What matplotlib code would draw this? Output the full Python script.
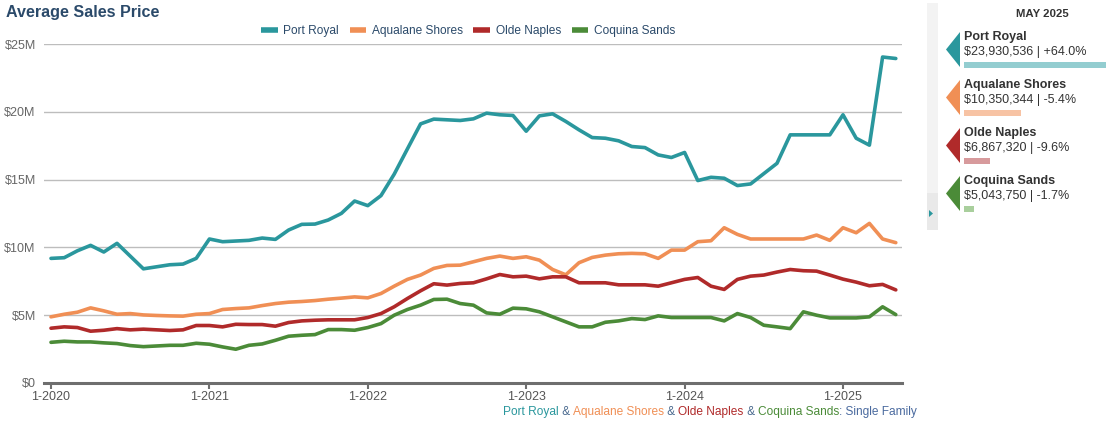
import matplotlib
matplotlib.use("Agg")
import matplotlib.pyplot as plt
from matplotlib.patches import Polygon, Rectangle
import numpy as np

plt.rcParams['font.family'] = ['Liberation Sans', 'DejaVu Sans']

# ---------------- data ----------------
series_names = ["Port Royal", "Aqualane Shores", "Olde Naples", "Coquina Sands"]
start_year = 2020
tick_labels = ["1-2020", "1-2021", "1-2022", "1-2023", "1-2024", "1-2025"]

port_royal = [
    9.19, 9.24, 9.75, 10.15, 9.66, 10.3, 9.36, 8.42, 8.57, 8.72, 8.77, 9.19,
    10.62, 10.42, 10.47, 10.52, 10.69, 10.59, 11.28, 11.7, 11.72, 12.02, 12.51, 13.42,
    13.08, 13.82, 15.4, 17.26, 19.11, 19.46, 19.41, 19.36, 19.48, 19.9, 19.78, 19.73,
    18.57, 19.7, 19.85, 19.29, 18.67, 18.1, 18.05, 17.86, 17.44, 17.36, 16.82, 16.63,
    17.0, 14.93, 15.17, 15.1, 14.56, 14.68, 15.44, 16.2, 18.3, 18.3, 18.3, 18.3,
    19.78, 18.05, 17.54, 24.04, 23.930536]
aqualane_shores = [
    4.88, 5.07, 5.22, 5.54, 5.32, 5.07, 5.12, 5.02, 4.98, 4.95, 4.93, 5.07,
    5.12, 5.42, 5.49, 5.54, 5.71, 5.86, 5.96, 6.01, 6.08, 6.18, 6.26, 6.35,
    6.28, 6.6, 7.14, 7.64, 7.96, 8.45, 8.67, 8.69, 8.94, 9.19, 9.36, 9.19,
    9.31, 9.06, 8.37, 7.98, 8.87, 9.26, 9.43, 9.53, 9.56, 9.53, 9.19, 9.8,
    9.8, 10.42, 10.49, 11.45, 10.96, 10.62, 10.62, 10.62, 10.62, 10.62, 10.91, 10.52,
    11.45, 11.08, 11.77, 10.62, 10.350344]
olde_naples = [
    4.04, 4.14, 4.09, 3.82, 3.89, 4.01, 3.92, 3.97, 3.92, 3.87, 3.92, 4.24,
    4.24, 4.14, 4.33, 4.31, 4.31, 4.19, 4.46, 4.58, 4.63, 4.66, 4.66, 4.66,
    4.83, 5.12, 5.62, 6.23, 6.8, 7.32, 7.22, 7.34, 7.39, 7.68, 8.0, 7.83,
    7.88, 7.68, 7.83, 7.83, 7.39, 7.39, 7.39, 7.24, 7.24, 7.24, 7.14, 7.39,
    7.64, 7.78, 7.14, 6.9, 7.64, 7.88, 7.96, 8.18, 8.37, 8.28, 8.25, 7.96,
    7.66, 7.44, 7.17, 7.27, 6.86732]
coquina_sands = [
    3.0, 3.08, 3.03, 3.03, 2.96, 2.91, 2.76, 2.68, 2.73, 2.78, 2.78, 2.93,
    2.86, 2.66, 2.49, 2.78, 2.88, 3.15, 3.45, 3.52, 3.57, 3.94, 3.94, 3.89,
    4.09, 4.38, 5.0, 5.42, 5.74, 6.16, 6.18, 5.86, 5.74, 5.17, 5.07, 5.52,
    5.47, 5.25, 4.88, 4.51, 4.14, 4.14, 4.48, 4.58, 4.75, 4.68, 4.95, 4.83,
    4.83, 4.83, 4.83, 4.58, 5.12, 4.83, 4.26, 4.14, 4.01, 5.25, 5.0, 4.8,
    4.8, 4.8, 4.88, 5.62, 5.04375]

panel_month = "MAY 2025"
panel_values = ["$23,930,536", "$10,350,344", "$6,867,320", "$5,043,750"]
panel_changes = ["+64.0%", "-5.4%", "-9.6%", "-1.7%"]
y_ticks_m = [0, 5, 10, 15, 20, 25]

# ---------------- style ----------------
colors = ["#2a979d", "#f08f55", "#b02a2a", "#4b8b38"]
light_colors = ["#93cdd0", "#f7c3a4", "#d79a9c", "#a9cf9d"]
bar_px = [150, 57, 26, 10]
navy = "#2b4a6a"
W, H = 1106, 424

fig = plt.figure(figsize=(W / 100, H / 100), dpi=100)

def fx(px):
    return px / W

def fy(py):
    return 1 - py / H

ax = fig.add_axes([fx(44), fy(383), fx(902) - fx(44), fy(44) - fy(383)])
all_series = [port_royal, aqualane_shores, olde_naples, coquina_sands]
x = np.arange(len(port_royal))
for name, vals, c in zip(series_names, all_series, colors):
    ax.plot(x, np.array(vals) * 1e6, color=c, lw=2.6, label=name,
            solid_joinstyle='round', solid_capstyle='round', zorder=3)

ax.set_ylim(0, 25e6)
ax.set_xlim(-0.53, 64.47)
ax.set_yticks([v * 1e6 for v in y_ticks_m])
ax.set_yticklabels(["$0" if v == 0 else f"${v}M" for v in y_ticks_m])
ax.set_xticks([12 * i for i in range(len(tick_labels))])
ax.set_xticklabels(tick_labels)
ax.grid(axis='y', color='#bdbdbd', lw=1.0)
ax.set_axisbelow(True)
for s in ['top', 'right', 'left']:
    ax.spines[s].set_visible(False)
ax.spines['bottom'].set_color('#6e6e6e')
ax.spines['bottom'].set_linewidth(2.2)
ax.spines['bottom'].set_zorder(4)
ax.tick_params(axis='y', length=0, pad=6, labelsize=9, labelcolor='#666666')
ax.tick_params(axis='x', length=4, width=1.5, color='#6e6e6e', pad=2,
               labelsize=9, labelcolor='#555555')

# title
fig.text(fx(6), fy(13), "Average Sales Price", fontsize=11.6, fontweight='bold',
         color=navy, ha='left', va='center')

# legend
handles, labels = ax.get_legend_handles_labels()
leg = fig.legend(handles, labels, loc='center', bbox_to_anchor=(fx(468), fy(31)),
                 ncol=4, frameon=False, fontsize=8.6, handlelength=1.4,
                 handletextpad=0.45, columnspacing=0.9)
for t in leg.get_texts():
    t.set_color(navy)
for l in leg.get_lines():
    l.set_linewidth(4)
    l.set_solid_capstyle('butt')

# caption with coloured parts
caption_parts = [("Port Royal", colors[0]), (" & ", "#4a6a8f"),
                 ("Aqualane Shores", colors[1]), (" & ", "#4a6a8f"),
                 ("Olde Naples", colors[2]), (" & ", "#4a6a8f"),
                 ("Coquina Sands", colors[3]), (": Single Family", "#4a6a9f")]
renderer = fig.canvas.get_renderer()
cur = 503
for txt, c in caption_parts:
    t = fig.text(fx(cur), fy(412), txt, fontsize=8.6, color=c, ha='left', va='center')
    bb = t.get_window_extent(renderer)
    cur += bb.width

# right panel
fig.patches.append(Rectangle((fx(927), fy(230)), fx(938) - fx(927), fy(3) - fy(230),
                             transform=fig.transFigure, facecolor='#f3f3f3',
                             edgecolor='none'))
fig.patches.append(Rectangle((fx(927), fy(230)), fx(938) - fx(927), fy(193) - fy(230),
                             transform=fig.transFigure, facecolor='#e9e9e9',
                             edgecolor='none'))
fig.patches.append(Polygon([(fx(929), fy(210)), (fx(933), fy(213.5)), (fx(929), fy(217))],
                           closed=True, transform=fig.transFigure,
                           facecolor='#2a979d', edgecolor='none'))

fig.text(fx(1042), fy(14), panel_month, fontsize=8.2, fontweight='bold',
         color='#333333', ha='center', va='center')
for i, name in enumerate(series_names):
    top = 32 + 48 * i
    fig.patches.append(Polygon([(fx(946), fy(top + 17.5)), (fx(960), fy(top)),
                                (fx(960), fy(top + 35))], closed=True,
                               transform=fig.transFigure, facecolor=colors[i],
                               edgecolor='none'))
    fig.text(fx(964), fy(top + 5), name, fontsize=9, fontweight='bold',
             color='#333333', ha='left', va='center')
    fig.text(fx(964), fy(top + 20), f"{panel_values[i]} | {panel_changes[i]}",
             fontsize=9, color='#333333', ha='left', va='center')
    fig.patches.append(Rectangle((fx(964), fy(top + 35.5)), fx(964 + bar_px[i]) - fx(964),
                                 fy(top + 30) - fy(top + 35.5),
                                 transform=fig.transFigure, facecolor=light_colors[i],
                                 edgecolor='none'))

fig.savefig("out.png", dpi=100)
